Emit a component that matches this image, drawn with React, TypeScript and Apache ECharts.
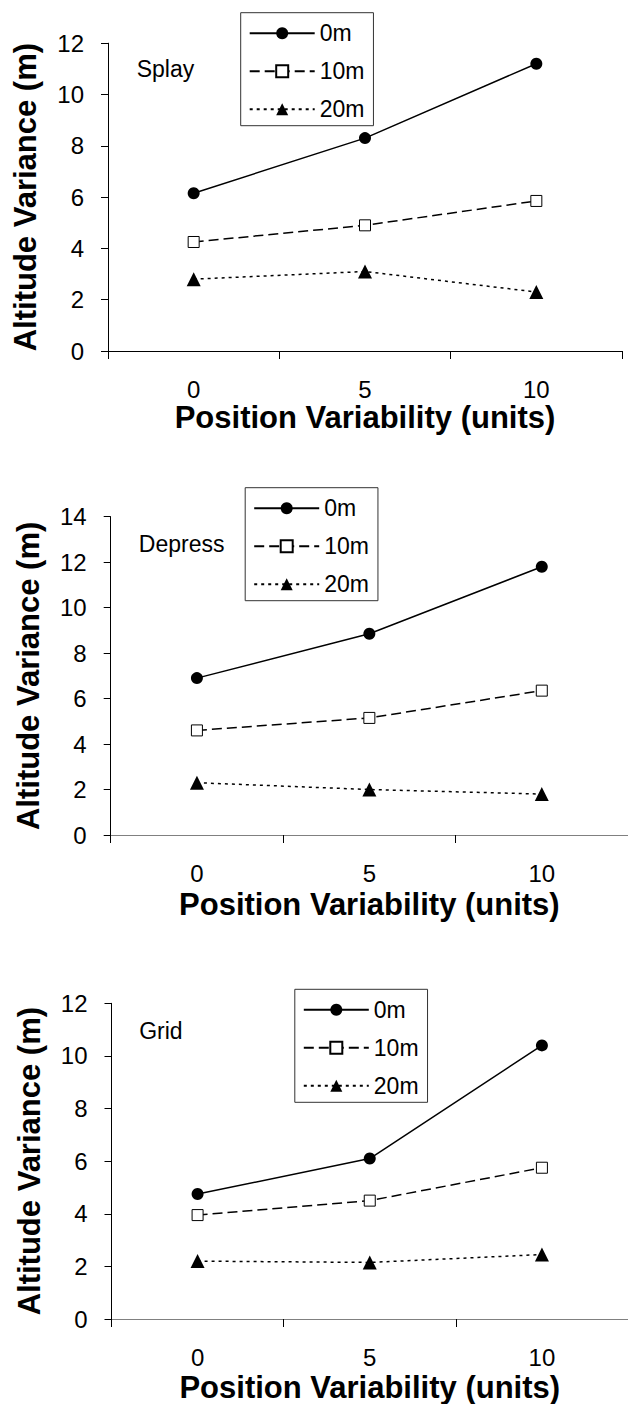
import React, { useEffect, useRef } from "react";
import * as echarts from "echarts";

const categories = ["0", "5", "10"];
const seriesNames = ["0m", "10m", "20m"];

const splay0 = [6.15, 8.3, 11.2];
const splay10 = [4.25, 4.9, 5.85];
const splay20 = [2.8, 3.1, 2.3];

const depress0 = [6.9, 8.85, 11.8];
const depress10 = [4.6, 5.15, 6.35];
const depress20 = [2.3, 2.0, 1.8];

const grid0 = [4.75, 6.1, 10.4];
const grid10 = [3.95, 4.5, 5.75];
const grid20 = [2.2, 2.15, 2.45];

const panelLabels = ["Splay", "Depress", "Grid"];
const yMax = [12, 14, 12];

const FONT = "'Liberation Sans', Arial, Helvetica, sans-serif";

export default function App() {
  const ref = useRef<HTMLDivElement>(null);

  useEffect(() => {
    if (!ref.current) return;
    const chart = echarts.init(ref.current, undefined, { renderer: "svg" });

    const panelData = [
      [splay0, splay10, splay20],
      [depress0, depress10, depress20],
      [grid0, grid10, grid20],
    ];

    const grids = [
      { left: 108, top: 43.2, width: 514, height: 307.8 },
      { left: 110.7, top: 516.7, width: 524, height: 318.3 },
      { left: 111.5, top: 1003.3, width: 524, height: 315.7 },
    ];
    const xNameGap = [44, 54, 53];
    const xAxisColor = ["#000", "#808080", "#808080"];

    const legendPos = [
      { left: 240.7, top: 12.7 },
      { left: 245.2, top: 487.7 },
      { left: 294.8, top: 989.3 },
    ];
    const labelPos = [
      { x: 136.7, y: 69 },
      { x: 138.8, y: 544 },
      { x: 139.2, y: 1030.7 },
    ];

    const xAxes = grids.map((_, i) => ({
      type: "category",
      gridIndex: i,
      data: categories,
      boundaryGap: true,
      name: "Position Variability (units)",
      nameLocation: "middle",
      nameGap: xNameGap[i],
      nameTextStyle: { fontFamily: FONT, fontSize: 31, fontWeight: "bold", color: "#000" },
      axisLine: { lineStyle: { color: xAxisColor[i], width: 1.2 } },
      axisTick: { show: true, length: 8, lineStyle: { color: "#000", width: 1 } },
      axisLabel: { fontFamily: FONT, fontSize: 24, color: "#000", margin: 26 },
      splitLine: { show: false },
    }));

    const yAxes = grids.map((_, i) => ({
      type: "value",
      gridIndex: i,
      min: 0,
      max: yMax[i],
      interval: 2,
      name: "Altitude Variance (m)",
      nameLocation: "middle",
      nameGap: 67,
      nameTextStyle: { fontFamily: FONT, fontSize: 31, fontWeight: "bold", color: "#000" },
      axisLine: { show: true, lineStyle: { color: "#000", width: 1 } },
      axisTick: { show: true, length: 7, lineStyle: { color: "#000", width: 1 } },
      axisLabel: { fontFamily: FONT, fontSize: 24, color: "#000", margin: 24 },
      splitLine: { show: false },
    }));

    const series: any[] = [];
    panelData.forEach((sets, p) => {
      series.push({
        name: seriesNames[0],
        type: "line",
        xAxisIndex: p,
        yAxisIndex: p,
        data: sets[0],
        symbol: "circle",
        symbolSize: 12,
        lineStyle: { color: "#000", width: 1.5, type: "solid" },
        itemStyle: { color: "#000" },
      });
      series.push({
        name: seriesNames[1],
        type: "line",
        xAxisIndex: p,
        yAxisIndex: p,
        data: sets[1],
        symbol: "rect",
        symbolSize: 11,
        lineStyle: { color: "#000", width: 1.5, type: [10, 5] },
        itemStyle: { color: "#fff", borderColor: "#000", borderWidth: 1 },
      });
      series.push({
        name: seriesNames[2],
        type: "line",
        xAxisIndex: p,
        yAxisIndex: p,
        data: sets[2],
        symbol: "triangle",
        symbolSize: 14,
        lineStyle: { color: "#000", width: 1.5, type: [3, 4] },
        itemStyle: { color: "#000" },
      });
    });

    const legends = legendPos.map((pos) => ({
      show: true,
      orient: "vertical",
      left: pos.left,
      top: pos.top,
      data: seriesNames,
      itemWidth: 65,
      itemHeight: 15,
      itemGap: 15,
      padding: [9, 9, 5, 8],
      borderColor: "#333",
      borderWidth: 1,
      backgroundColor: "#fff",
      selectedMode: false,
      textStyle: { fontFamily: FONT, fontSize: 23, color: "#000" },
    }));

    const graphics = labelPos.map((pos, i) => ({
      type: "text",
      left: pos.x,
      top: pos.y - 11.5,
      style: {
        text: panelLabels[i],
        fontFamily: FONT,
        fontSize: 23,
        fill: "#000",
      },
    }));

    chart.setOption({
      animation: false,
      backgroundColor: "#fff",
      grid: grids,
      xAxis: xAxes,
      yAxis: yAxes,
      legend: legends,
      series,
      graphic: graphics,
    });

    return () => chart.dispose();
  }, []);

  return (
    <div
      ref={ref}
      style={{ position: "absolute", left: 0, top: 0, width: 628, height: 1404, background: "#fff" }}
    />
  );
}
